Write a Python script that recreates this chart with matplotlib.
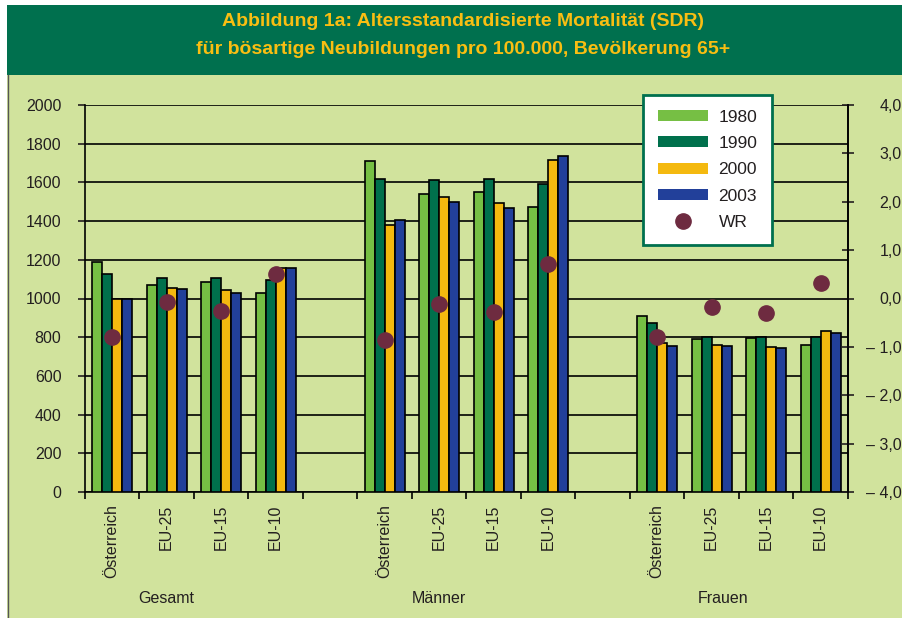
import matplotlib.pyplot as plt
from matplotlib.patches import Rectangle, Patch
from matplotlib.lines import Line2D
import numpy as np

plt.rcParams['font.family'] = ['Liberation Sans', 'DejaVu Sans']

# data
groups = ['Gesamt', 'Männer', 'Frauen']
regions = ['Österreich', 'EU-25', 'EU-15', 'EU-10']
years = ['1980', '1990', '2000', '2003']

sdr_1980 = [1188, 1070, 1083, 1030,  1709, 1538, 1552, 1475,  910, 789, 798, 762]
sdr_1990 = [1126, 1107, 1107, 1095,  1616, 1614, 1616, 1593,  875, 803, 803, 800]
sdr_2000 = [997, 1056, 1042, 1156,   1380, 1523, 1494, 1717,  770, 762, 749, 834]
sdr_2003 = [995, 1047, 1030, 1156,   1406, 1500, 1468, 1738,  756, 756, 746, 820]
wr = [-0.79, -0.08, -0.25, 0.50,  -0.85, -0.12, -0.27, 0.72,  -0.79, -0.18, -0.31, 0.33]

right_ticks = [-4, -3, -2, -1, 0, 1, 2, 3, 4]
right_labels = ['– 4,0', '– 3,0', '– 2,0', '– 1,0', '0,0', '1,0', '2,0', '3,0', '4,0']

colors = ['#76BF44', '#00704C', '#F4B90F', '#22409A']
dot_color = '#6E2B40'
bg = '#D1E39D'
band = '#00704E'
txt = '#231F20'

# slot positions: 4 per group, one empty slot between groups
slots = np.array([0, 1, 2, 3, 5, 6, 7, 8, 10, 11, 12, 13]) + 0.5

fig = plt.figure(figsize=(9.03, 6.18), dpi=100)
fig.patch.set_facecolor('white')
fig.add_artist(Rectangle((7/903, 0), 1, 1 - 75/618, transform=fig.transFigure,
                         facecolor=bg, edgecolor='none', zorder=-10))
fig.add_artist(Line2D([7.5/903, 7.5/903], [0, 1 - 75/618], transform=fig.transFigure,
                      color='#555555', lw=1, zorder=-9))
fig.add_artist(Rectangle((7/903, 1 - 75/618), 1, 70/618, transform=fig.transFigure,
                         facecolor=band, edgecolor='none', zorder=-10))
title_kw = dict(ha='center', va='center', color='#F9BE12', fontsize=14, fontweight='bold')
fig.text(463/903, 1 - 22/618, 'Abbildung 1a: Altersstandardisierte Mortalität (SDR)', **title_kw)
fig.text(463/903, 1 - 50/618, 'für bösartige Neubildungen pro 100.000, Bevölkerung 65+', **title_kw)

ax = fig.add_axes([85/903, 1 - 492/618, 763/903, 387/618])
ax.set_facecolor('none')
w = 0.183
for i, (vals, c) in enumerate(zip([sdr_1980, sdr_1990, sdr_2000, sdr_2003], colors)):
    ax.bar(slots + (i - 1.5) * w, vals, width=w, color=c, edgecolor='black',
           linewidth=1.2, zorder=3)

ax.set_xlim(0, 14)
ax.set_ylim(0, 2000)
ax.set_yticks(range(0, 2001, 200))
ax.yaxis.grid(True, color='black', linewidth=1.2, zorder=1)
ax.set_axisbelow(True)
ax.tick_params(axis='y', length=5, width=1.2, pad=12, labelsize=11.5, colors=txt)
ax.set_xticks(range(0, 15))
ax.set_xticklabels([])
ax.tick_params(axis='x', which='major', length=5, width=1.2)
ax.set_xticks(slots, minor=True)
ax.set_xticklabels(regions * 3, minor=True, rotation=90, fontsize=11.5, color=txt)
ax.tick_params(axis='x', which='minor', length=0, pad=9)
for s in ax.spines.values():
    s.set_linewidth(1.2)
ax.spines['top'].set_visible(False)

for gx, g in zip([1.5, 6.5, 11.7], groups):
    ax.text(gx, -0.275, g, transform=ax.get_xaxis_transform(), ha='center', va='center',
            fontsize=11.5, color=txt)

ax2 = ax.twinx()
ax2.set_ylim(-4, 4)
ax2.set_yticks(right_ticks)
ax2.set_yticklabels(right_labels, ha='right')
ax2.tick_params(axis='y', direction='inout', length=9, width=1.2, pad=34, labelsize=11.5, colors=txt)
for s in ax2.spines.values():
    s.set_visible(False)
ax2.spines['right'].set_visible(True)
ax2.spines['right'].set_linewidth(1.2)
ax2.plot(slots, wr, 'o', color=dot_color, markersize=11, zorder=4)

handles = [Patch(facecolor=c, edgecolor='none') for c in colors]
handles.append(Line2D([], [], marker='o', ls='none', color=dot_color, markersize=11))
leg = fig.legend(handles, years + ['WR'], loc='upper left',
                 bbox_to_anchor=(643/903, 1 - 95/618), borderaxespad=0, fontsize=12.5,
                 frameon=True, fancybox=False, framealpha=1, facecolor='white',
                 handlelength=2.9, handleheight=0.6, labelspacing=0.65,
                 handletextpad=0.6, borderpad=0.85)
leg.get_frame().set_edgecolor(band)
leg.get_frame().set_linewidth(2)
for t in leg.get_texts():
    t.set_color(txt)

fig.savefig('out.png', dpi=100)
